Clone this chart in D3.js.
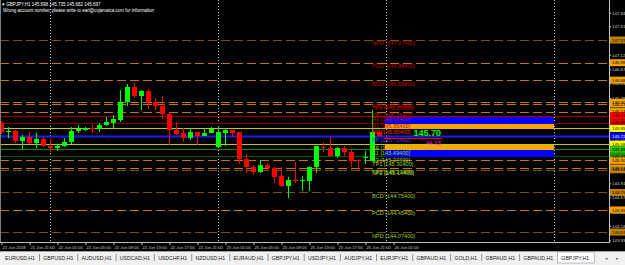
<!DOCTYPE html>
<html><head><meta charset="utf-8">
<script src="https://cdn.jsdelivr.net/npm/d3@7"></script>
<style>html,body{margin:0;padding:0;background:#000;overflow:hidden}svg{display:block}text{font-family:"Liberation Sans",Arial,sans-serif}</style>
</head><body>
<svg id="c" width="625" height="265"></svg>
<script>
// ---- data ----
const opens  = [145.942,145.805,145.810,145.638,145.712,145.599,145.668,145.558,145.524,145.558,145.616,145.810,145.827,145.867,145.839,145.913,145.953,146.000,146.314,146.571,146.417,146.498,146.314,146.245,146.102,145.827,145.771,145.685,145.793,145.724,145.776,145.530,145.781,145.827,145.788,145.324,145.197,145.111,145.226,145.169,145.037,144.865,144.968,144.951,144.951,145.197,145.541,145.513,145.386,145.513,145.455,145.312,145.363,145.300,145.788,145.698];
const highs  = [145.982,145.874,145.827,145.741,145.798,145.781,145.707,145.690,145.587,145.695,145.874,145.913,145.884,145.913,145.942,146.056,146.085,146.515,146.618,146.640,146.515,146.532,146.377,146.412,146.119,145.965,145.862,145.862,145.793,145.857,145.884,145.896,145.857,145.827,145.798,145.415,145.226,145.312,145.255,145.197,145.197,145.015,145.283,145.037,145.209,145.560,145.626,145.712,145.541,145.553,145.501,145.329,145.467,146.171,145.810,145.735];
const lows   = [145.759,145.685,145.604,145.501,145.587,145.513,145.535,145.455,145.472,145.541,145.587,145.771,145.815,145.771,145.798,145.896,145.839,145.960,146.245,146.372,146.171,146.188,146.171,146.011,145.570,145.741,145.626,145.656,145.570,145.724,145.771,145.530,145.553,145.712,145.243,145.094,145.054,145.083,145.140,144.912,144.853,144.664,144.912,144.784,144.784,145.094,145.455,145.381,145.341,145.381,145.197,145.140,145.243,145.295,145.707,145.682];
const closes = [145.798,145.815,145.638,145.712,145.599,145.668,145.553,145.524,145.553,145.616,145.815,145.839,145.867,145.839,145.913,145.970,146.016,146.314,146.571,146.417,146.503,146.303,146.245,146.097,145.827,145.759,145.685,145.793,145.724,145.781,145.845,145.788,145.827,145.776,145.324,145.197,145.111,145.226,145.169,145.025,144.870,144.968,144.951,144.968,145.197,145.553,145.513,145.386,145.513,145.455,145.300,145.295,145.372,145.788,145.729,145.697];

const levelNames  = ["NPU","PCU","BCU","NP2","TP2","TP1","R2","R1","BE","PP","SE","S1","S2","TP1","TP2","NP2","BCD","PCD","NPD"];
const levelValues = [147.374,146.984,146.684,146.304,146.274,146.144,146.074,145.954,145.854,145.724,145.584,145.494,145.374,145.304,145.174,145.144,144.754,144.454,144.074];
const levelKinds  = ["dashDim","dash","dash","dash","dash","dash","red","red2","yellow","blue","yellow","green","green2","dash","dash","dashDim","dashDim","dash","dashDim"];
const levelGroup  = ["up","up","up","up","up","up","up","up","be","pp","se","dn","dn","dn","dn","dn","dn","dn","dn"];

const zoneTops    = [146.074,145.954,145.584,145.494];
const zoneBottoms = [145.954,145.854,145.494,145.374];
const zoneKinds   = ["blue","orange","orange","blue"];
const zoneStartBar = 55, zoneEndBar = 79;

const priceTicks = [147.84,147.61,147.37,147.12,146.87,146.63,146.38,146.14,145.89,145.65,145.40,145.16,144.91,144.67,144.42,144.18,143.93];
const timeTickBars = [0,4,8,12,16,20,24,28,32,36,40,44,48,52,56];
const timeLabels = ["21 Jun 2018","21 Jun 21:00","22 Jun 01:00","22 Jun 05:00","22 Jun 09:00","22 Jun 13:00","22 Jun 17:00","22 Jun 21:00","25 Jun 01:00","25 Jun 05:00","25 Jun 09:00","25 Jun 13:00","25 Jun 17:00","25 Jun 21:00","26 Jun 01:00"];
const separatorBars = [7,31,55,79];

const symbol = "GBPJPY,H1";
const headerOHLC = [145.698,145.735,145.682,145.697];
const warning = "Wrong account number, please write to earl@cvjamaica.com for information";
const currentPrice = 145.697;
const bigPriceText = "145.70";
const counterText = "44.15";
const tabNames = ["EURUSD,H1","GBPUSD,H1","AUDUSD,H1","USDCAD,H1","USDCHF,H1","NZDUSD,H1","EURAUD,H1","GBPJPY,H1","USDJPY,H1","AUDJPY,H1","EURJPY,H1","GBPAUD,H1","GOLD,H1","GBPAUD,H1","GBPAUD,H1","GBPJPY,H1"];
const activeTab = 15;

// ---- layout ----
const W = 625, H = 265, plotR = 609, plotB = 242;
const svg = d3.select("#c");
const x = d3.scaleLinear().domain([0, 87]).range([1, 610]);
const y = d3.scaleLinear().domain([143.903, 148.061]).range([plotB, 0]);

const lineColor = {dash:"#c87800", dashDim:"#7a5200", red:"#a00000", red2:"#7a0000", yellow:"#c8c800", blue:"#1a1aff", green:"#008a00", green2:"#006000"};
const axisBoxColor = {dash:"#f0a000", dashDim:"#c08000", red:"#ff0000", red2:"#e00000", yellow:"#ffff00", blue:"#0000ff", green:"#30c000", green2:"#209000"};
const labelColor = {up:"#c00000", be:"#e03000", pp:"#3050ff", se:"#c8c800", dn:"#9acd32"};
const zoneColor = {blue:"#0000ff", orange:"#ffa500"};

svg.append("rect").attr("width", W).attr("height", H).attr("fill", "#000");

const plot = svg.append("g");
// period separators
plot.selectAll("line.sep").data(separatorBars).join("line")
  .attr("x1", d => Math.round(x(d)) + 0.5).attr("x2", d => Math.round(x(d)) + 0.5)
  .attr("y1", 0).attr("y2", plotB)
  .attr("stroke", "#c8c8c8").attr("stroke-dasharray", "1,2");

// level lines
const levels = levelValues.map((v, i) => ({v, name: levelNames[i], kind: levelKinds[i], group: levelGroup[i]}));
plot.selectAll("line.lvl").data(levels).join("line")
  .attr("x1", 0).attr("x2", plotR)
  .attr("y1", d => Math.round(y(d.v)) + 0.5).attr("y2", d => Math.round(y(d.v)) + 0.5)
  .attr("stroke", d => lineColor[d.kind])
  .attr("stroke-width", d => d.kind === "blue" ? 2 : 1)
  .attr("stroke-dasharray", d => d.kind.startsWith("dash") ? "9,4" : null);

// zones
const zones = zoneTops.map((t, i) => ({t, b: zoneBottoms[i], k: zoneKinds[i]}));
plot.selectAll("rect.zone").data(zones).join("rect")
  .attr("x", Math.round(x(zoneStartBar)) - 1)
  .attr("width", Math.round(x(zoneEndBar)) - Math.round(x(zoneStartBar)) + 1)
  .attr("y", d => Math.round(y(d.t)) + 1)
  .attr("height", d => Math.round(y(d.b)) - Math.round(y(d.t)))
  .attr("fill", d => zoneColor[d.k]);

// candles
const bars = opens.map((o, i) => ({i, o, h: highs[i], l: lows[i], c: closes[i]}));
const cg = plot.append("g").attr("shape-rendering", "crispEdges");
cg.selectAll("line.wick").data(bars).join("line")
  .attr("x1", d => Math.round(x(d.i)) + 0.5).attr("x2", d => Math.round(x(d.i)) + 0.5)
  .attr("y1", d => y(d.h)).attr("y2", d => y(d.l))
  .attr("stroke", d => d.c >= d.o ? "#00ff00" : "#ff0000");
cg.selectAll("rect.body").data(bars).join("rect")
  .attr("x", d => Math.round(x(d.i)) - 2).attr("width", 5)
  .attr("y", d => Math.min(y(d.o), y(d.c)))
  .attr("height", d => Math.max(1, Math.abs(y(d.o) - y(d.c))))
  .attr("fill", d => d.c >= d.o ? "#00ff00" : "#ff0000");

// level labels
plot.selectAll("text.lbl").data(levels).join("text")
  .attr("x", 372).attr("y", d => y(d.v) + 5.5)
  .attr("font-size", 5.6).attr("fill", d => labelColor[d.group])
  .text(d => `${d.name} [${d.v.toFixed(5)}]`);

// current price marker
plot.append("line").attr("x1", Math.round(x(55)) - 2).attr("x2", 442)
  .attr("y1", Math.round(y(currentPrice)) + 0.5).attr("y2", Math.round(y(currentPrice)) + 0.5)
  .attr("stroke", "#ff0000");
plot.append("text").attr("x", 441).attr("y", y(currentPrice) - 2).attr("text-anchor", "end")
  .attr("font-size", 9).attr("font-weight", "bold").attr("fill", "#00ff00").text(bigPriceText);
plot.append("text").attr("x", 441).attr("y", y(currentPrice) + 7.5).attr("text-anchor", "end")
  .attr("font-size", 6).attr("fill", "#ff00ff").text(counterText);

// frame
svg.append("line").attr("x1", 0.5).attr("x2", 0.5).attr("y1", 0).attr("y2", plotB).attr("stroke", "#808080");
svg.append("line").attr("x1", 0).attr("x2", plotR + 1).attr("y1", plotB + 0.5).attr("y2", plotB + 0.5).attr("stroke", "#c0c0c0");
svg.append("line").attr("x1", plotR + 0.5).attr("x2", plotR + 0.5).attr("y1", 0).attr("y2", plotB + 1).attr("stroke", "#c0c0c0");

// price axis
const ya = svg.append("g").attr("transform", `translate(${plotR},0)`)
  .call(d3.axisRight(y).tickValues(priceTicks).tickFormat(d3.format(".2f")).tickSize(2).tickPadding(1));
ya.select(".domain").remove();
ya.selectAll("line").attr("stroke", "#c0c0c0");
ya.selectAll("text").attr("fill", "#c8c8c8").attr("font-size", 4.4).attr("font-family", "Liberation Sans, Arial");
// level price boxes on axis
const ab = svg.append("g");
ab.selectAll("rect").data(levels).join("rect")
  .attr("x", plotR + 1).attr("width", W - plotR - 1)
  .attr("y", d => y(d.v) - 3.5).attr("height", 7)
  .attr("fill", d => axisBoxColor[d.kind]);
ab.selectAll("text").data(levels).join("text")
  .attr("x", plotR + 3).attr("y", d => y(d.v) + 1.6)
  .attr("font-size", 4.4).attr("fill", d => d.kind === "blue" ? "#ffffff" : "#000")
  .text(d => d.v.toFixed(2));

// time axis
const xa = svg.append("g").attr("transform", `translate(0,${plotB})`)
  .call(d3.axisBottom(x).tickValues(timeTickBars).tickFormat((d, i) => timeLabels[i]).tickSize(3).tickPadding(1));
xa.select(".domain").remove();
xa.selectAll("line").attr("stroke", "#c0c0c0").attr("transform", "translate(0.5,0)");
xa.selectAll("text").attr("fill", "#c8c8c8").attr("font-size", 4.2).attr("text-anchor", "start")
  .attr("font-family", "Liberation Sans, Arial").attr("dx", 1);

// header
svg.append("text").attr("x", 2).attr("y", 5.5).attr("font-size", 4.5).attr("fill", "#ffffff")
  .text("\u25BE " + symbol + "  " + headerOHLC.map(v => v.toFixed(3)).join(" "));
svg.append("text").attr("x", 3).attr("y", 12).attr("font-size", 4.5).attr("fill", "#ffffff").text(warning);

// tab bar
const tb = svg.append("g").attr("transform", "translate(0,251)");
tb.append("rect").attr("width", W).attr("height", 14).attr("fill", "#f0f0f0");
tb.append("line").attr("x1", 0).attr("x2", W).attr("y1", 0.5).attr("y2", 0.5).attr("stroke", "#a0a0a0");
let cx = 5;
tabNames.forEach((n, i) => {
  const t = tb.append("text").attr("font-size", 5.2).attr("fill", "#202020").attr("y", 8.5).text(n);
  const w = t.node().getComputedTextLength();
  if (i === activeTab) {
    tb.insert("rect", "text").attr("x", cx - 4).attr("y", 1).attr("width", w + 9).attr("height", 11)
      .attr("fill", "#ffffff").attr("stroke", "#909090").attr("stroke-width", 0.6);
  }
  t.attr("x", cx);
  cx += w + 4;
  if (i < tabNames.length - 1 && i !== activeTab - 1) {
    tb.append("line").attr("x1", cx + 0.5).attr("x2", cx + 0.5).attr("y1", 3).attr("y2", 10).attr("stroke", "#909090");
  }
  cx += 4.3;
});
tb.append("text").attr("x", 605).attr("y", 8.5).attr("font-size", 5).attr("fill", "#707070").text("\u25C2");
tb.append("text").attr("x", 616).attr("y", 8.5).attr("font-size", 5).attr("fill", "#707070").text("\u25B8");
</script>
</body></html>
